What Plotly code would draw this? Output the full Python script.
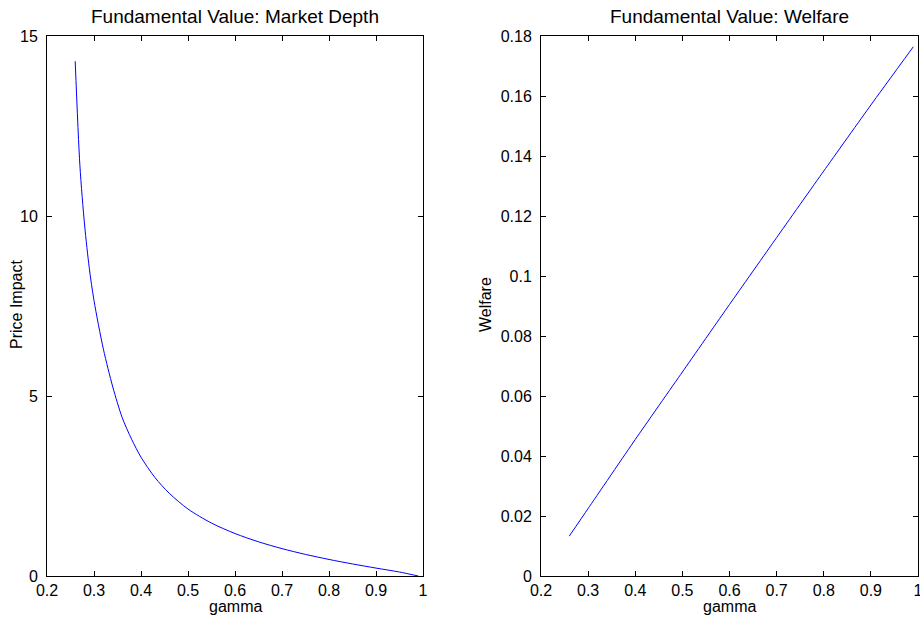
import plotly.graph_objects as go

# Left panel: Market Depth (Price Impact vs gamma)
gamma_depth = [0.26, 0.27, 0.28, 0.29, 0.30, 0.32, 0.34, 0.36, 0.38, 0.40, 0.43, 0.46,
               0.50, 0.55, 0.60, 0.65, 0.70, 0.75, 0.80, 0.85, 0.90, 0.95, 0.99]
price_impact = [14.3, 11.4, 9.75, 8.55, 7.65, 6.3, 5.25, 4.4, 3.8, 3.3, 2.73, 2.30,
                1.86, 1.47, 1.18, 0.95, 0.76, 0.60, 0.46, 0.335, 0.22, 0.11, 0.0]

# Right panel: Welfare vs gamma
gamma_welfare = [0.26, 0.30, 0.40, 0.50, 0.60, 0.70, 0.80, 0.90, 0.99]
welfare = [0.0133, 0.0225, 0.0455, 0.0680, 0.0905, 0.1128, 0.1350, 0.1570, 0.1764]

x_ticks = [0.2, 0.3, 0.4, 0.5, 0.6, 0.7, 0.8, 0.9, 1.0]
x_ticklabels = ["0.2", "0.3", "0.4", "0.5", "0.6", "0.7", "0.8", "0.9", "1"]
y1_ticks = [0, 5, 10, 15]
y2_ticks = [0, 0.02, 0.04, 0.06, 0.08, 0.1, 0.12, 0.14, 0.16, 0.18]
y2_ticklabels = ["0", "0.02", "0.04", "0.06", "0.08", "0.1", "0.12", "0.14", "0.16", "0.18"]

W, H = 920, 618
font = "Liberation Sans, Arial, sans-serif"


def px(xp):
    return xp / W


def py(yp):
    return 1 - yp / H


fig = go.Figure()
fig.add_trace(go.Scatter(x=gamma_depth, y=price_impact, mode="lines",
                         line=dict(color="#0000ff", width=1, shape="spline", smoothing=0.8),
                         xaxis="x", yaxis="y", showlegend=False))
fig.add_trace(go.Scatter(x=gamma_welfare, y=welfare, mode="lines",
                         line=dict(color="#0000ff", width=1, shape="spline", smoothing=0.5),
                         xaxis="x2", yaxis="y2", showlegend=False))

ydom = [py(576), py(36)]
xd1 = [px(47), px(423)]
xd2 = [px(541), px(918)]

axis_common = dict(showgrid=False, zeroline=False, showline=True, linecolor="black", linewidth=1,
                   mirror="ticks", ticks="inside", ticklen=5, tickcolor="black", automargin=False,
                   ticklabeloverflow="allow",
                   tickfont=dict(family=font, size=16, color="black"))

fig.update_layout(
    template="none",
    width=W, height=H,
    margin=dict(l=0, r=0, t=0, b=0),
    paper_bgcolor="white", plot_bgcolor="white",
    font=dict(family=font, color="black"),
    xaxis=dict(domain=xd1, range=[0.2, 1.0], tickvals=x_ticks, ticktext=x_ticklabels, anchor="y", **axis_common),
    yaxis=dict(domain=ydom, range=[0, 15], tickvals=y1_ticks, anchor="x", ticklabelstandoff=5, **axis_common),
    xaxis2=dict(domain=xd2, range=[0.2, 1.0], tickvals=x_ticks, ticktext=x_ticklabels, anchor="y2", **axis_common),
    yaxis2=dict(domain=ydom, range=[0, 0.18], tickvals=y2_ticks, ticktext=y2_ticklabels, anchor="x2", ticklabelstandoff=5, **axis_common),
)

ann = [
    dict(text="Fundamental Value: Market Depth", x=px((47 + 423) / 2), y=py(17), size=19),
    dict(text="Fundamental Value: Welfare", x=px((541 + 918) / 2), y=py(17), size=19),
    dict(text="gamma", x=px((47 + 423) / 2), y=py(606), size=16),
    dict(text="gamma", x=px((541 + 918) / 2), y=py(606), size=16),
]
for a in ann:
    fig.add_annotation(text=a["text"], x=a["x"], y=a["y"], xref="paper", yref="paper", showarrow=False,
                       xanchor="center", yanchor="middle", font=dict(family=font, size=a["size"], color="black"))
fig.add_annotation(text="Price Impact", x=px(16), y=py(305), xref="paper", yref="paper", showarrow=False,
                   textangle=-90, xanchor="center", yanchor="middle", font=dict(family=font, size=16, color="black"))
fig.add_annotation(text="Welfare", x=px(485), y=py(305), xref="paper", yref="paper", showarrow=False,
                   textangle=-90, xanchor="center", yanchor="middle", font=dict(family=font, size=16, color="black"))

fig.write_html("out.html", config={"displayModeBar": False},
               post_script="document.body.style.margin='0';document.body.style.overflow='hidden';")
